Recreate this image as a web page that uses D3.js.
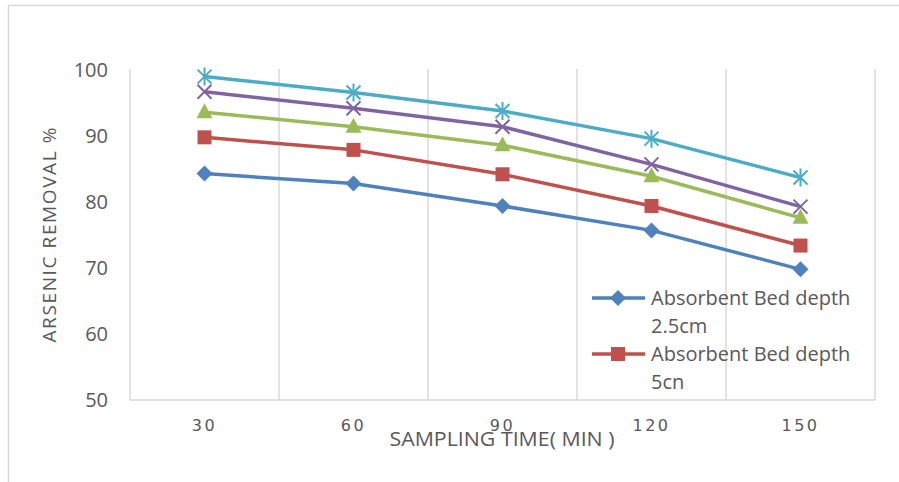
<!DOCTYPE html>
<html>
<head>
<meta charset="utf-8">
<script src="https://cdn.jsdelivr.net/npm/d3@7"></script>
<style>
body { margin: 0; background: #fff; }
text { font-family: "Open Sans", "Noto Sans", sans-serif; fill: #595959; }
</style>
</head>
<body>
<svg id="main" width="899" height="482"></svg>
<script>
var times = ["30", "60", "90", "120", "150"];
var yTicks = [50, 60, 70, 80, 90, 100];
var depth25 = [84.3, 82.8, 79.4, 75.7, 69.8];
var depth5 = [89.8, 87.9, 84.2, 79.4, 73.4];
var depth75 = [93.6, 91.4, 88.6, 83.9, 77.6];
var depth10 = [96.7, 94.2, 91.4, 85.7, 79.3];
var depth125 = [99.0, 96.6, 93.8, 89.6, 83.7];
var seriesNames = ["Absorbent Bed depth 2.5cm", "Absorbent Bed depth 5cn"];

window.onload = function() {
var svg = d3.select("#main");
var left = 130, right = 875, top = 70, bottom = 400;

var series = [
	{vals: depth25, color: "#4F81BD", marker: "diamond"},
	{vals: depth5, color: "#C0504D", marker: "square"},
	{vals: depth75, color: "#9BBB59", marker: "triangle"},
	{vals: depth10, color: "#8064A2", marker: "x"},
	{vals: depth125, color: "#4BACC6", marker: "star"}
];

var x = d3.scaleBand().domain(times).range([left, right]);
var y = d3.scaleLinear().domain([50, 100]).range([bottom, top]);

// outer chart border (only top/left visible)
svg.append("rect")
	.attr("x", 8.5).attr("y", 5.5)
	.attr("width", 1000).attr("height", 1000)
	.attr("fill", "none").attr("stroke", "#d9d9d9").attr("stroke-width", 1.5);

// vertical gridlines at band edges
var edges = times.map(function(t){ return x(t); }).concat([right]);
svg.selectAll(".vgrid").data(edges).enter().append("line")
	.attr("x1", function(d){ return d; }).attr("x2", function(d){ return d; })
	.attr("y1", top - 1).attr("y2", bottom)
	.attr("stroke", "#d9d9d9").attr("stroke-width", 1.5);

// bottom axis line
svg.append("line")
	.attr("x1", left).attr("x2", right)
	.attr("y1", bottom).attr("y2", bottom)
	.attr("stroke", "#d9d9d9").attr("stroke-width", 1.5);

// y tick labels
var yAxis = d3.axisLeft(y).tickValues(yTicks).tickSize(0).tickPadding(22);
var ya = svg.append("g").attr("transform", "translate(" + left + ",0)").call(yAxis);
ya.select(".domain").remove();
ya.selectAll("text").style("font-size", "20px").style("fill", "#595959")
	.style("font-family", "'Open Sans', sans-serif");

// x tick labels
var xAxis = d3.axisBottom(x).tickSize(0).tickPadding(20);
var xa = svg.append("g").attr("transform", "translate(0," + bottom + ")").call(xAxis);
xa.select(".domain").remove();
xa.selectAll("text").style("font-size", "16px").style("letter-spacing", "2.5px").style("fill", "#595959")
	.style("font-family", "'DejaVu Sans', sans-serif");

// axis titles
svg.append("text")
	.attr("x", 502).attr("y", 446)
	.attr("text-anchor", "middle")
	.attr("textLength", 225).attr("lengthAdjust", "spacingAndGlyphs")
	.style("font-size", "20px")
	.text("SAMPLING TIME( MIN )");

svg.append("text")
	.attr("transform", "translate(56,235) rotate(-90)")
	.attr("text-anchor", "middle")
	.attr("textLength", 215)
	.style("font-size", "19px")
	.text("ARSENIC REMOVAL  %");

var line = d3.line()
	.x(function(d, i){ return x(times[i]) + x.bandwidth() / 2; })
	.y(function(d){ return y(d); });

function drawMarker(g, kind, color) {
	if (kind == "diamond") {
		g.append("path").attr("d", "M0,-8L8,0L0,8L-8,0Z").attr("fill", color);
	} else if (kind == "square") {
		g.append("rect").attr("x", -7).attr("y", -7).attr("width", 14).attr("height", 14).attr("fill", color);
	} else if (kind == "triangle") {
		g.append("path").attr("d", "M0,-9L8,6L-8,6Z").attr("fill", color);
	} else if (kind == "x") {
		g.append("path").attr("d", "M-7,-7L7,7M-7,7L7,-7").attr("stroke", color).attr("stroke-width", 2);
	} else if (kind == "star") {
		g.append("path").attr("d", "M-7,-7L7,7M-7,7L7,-7M0,-9L0,9").attr("stroke", color).attr("stroke-width", 2);
	}
}

series.forEach(function(s){
	svg.append("path")
		.datum(s.vals)
		.attr("d", line)
		.attr("fill", "none")
		.attr("stroke", s.color)
		.attr("stroke-width", 3.5)
		.attr("stroke-linejoin", "round");
	s.vals.forEach(function(v, i){
		var g = svg.append("g")
			.attr("transform", "translate(" + (x(times[i]) + x.bandwidth() / 2) + "," + y(v) + ")");
		drawMarker(g, s.marker, s.color);
	});
});

// legend (only first two entries visible)
seriesNames.forEach(function(name, i){
	var ly = 298 + i * 56;
	svg.append("line")
		.attr("x1", 592).attr("x2", 645).attr("y1", ly).attr("y2", ly)
		.attr("stroke", series[i].color).attr("stroke-width", 3.5);
	var g = svg.append("g").attr("transform", "translate(618," + ly + ")");
	drawMarker(g, series[i].marker, series[i].color);
	var words = name.split(" ");
	var t = svg.append("text").attr("x", 651).attr("y", ly + 7).style("font-size", "20px");
	t.append("tspan").attr("x", 651).text(words.slice(0, 3).join(" "));
	t.append("tspan").attr("x", 651).attr("dy", 28).text(words[3]);
});
};
</script>
</body>
</html>
